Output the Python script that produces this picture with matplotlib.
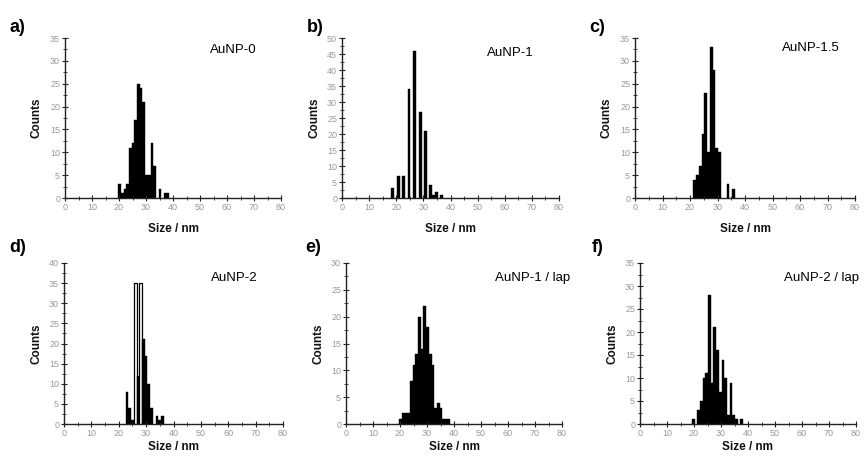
import matplotlib
matplotlib.use("Agg")
import matplotlib.pyplot as plt
from matplotlib.ticker import MultipleLocator

plt.rcParams['font.family'] = ['Liberation Sans', 'DejaVu Sans']

# ---- data (bin centre in nm, counts) ----
a_size = [20.2, 21.2, 22.2, 23.2, 24.2, 25.2, 26.2, 27.2, 28.2, 29.2, 30.2, 31.2, 32.2, 33.2, 35.2, 37.2, 38.2]
a_count = [3, 1, 2, 3, 11, 12, 17, 25, 24, 21, 5, 5, 12, 7, 2, 1, 1]

b_size = [18.7, 20.7, 22.6, 24.7, 26.7, 28.8, 30.8, 32.8, 33.9, 34.8, 36.8]
b_count = [3, 7, 7, 34, 46, 27, 21, 4, 1, 2, 1]

c_size = [21.7, 22.7, 23.7, 24.7, 25.7, 26.7, 27.7, 28.7, 29.7, 30.7, 33.8, 35.8]
c_count = [4, 5, 7, 14, 23, 10, 33, 28, 11, 10, 3, 2]

d_size = [23, 24, 25, 26, 27, 28, 29, 30, 31, 32, 34, 35, 36]
d_count = [8, 4, 1, 35, 12, 35, 21, 17, 10, 4, 2, 1, 2]

e_size = [20.2, 21.2, 22.2, 23.2, 24.2, 25.2, 26.2, 27.2, 28.2, 29.2, 30.2, 31.2, 32.2, 33.2, 34.2, 35.2, 36.2, 37.2, 38.2]
e_count = [1, 2, 2, 2, 8, 11, 13, 20, 14, 22, 18, 13, 11, 3, 4, 3, 1, 1, 1]

f_size = [19.7, 21.7, 22.7, 23.7, 24.7, 25.7, 26.7, 27.7, 28.7, 29.7, 30.7, 31.7, 32.7, 33.7, 34.7, 35.7, 37.7]
f_count = [1, 3, 5, 10, 11, 28, 9, 21, 16, 7, 14, 10, 2, 9, 2, 1, 1]

panels = [
    ("a)", "AuNP-0", a_size, a_count, 35),
    ("b)", "AuNP-1", b_size, b_count, 50),
    ("c)", "AuNP-1.5", c_size, c_count, 35),
    ("d)", "AuNP-2", d_size, d_count, 40),
    ("e)", "AuNP-1 / lap", e_size, e_count, 30),
    ("f)", "AuNP-2 / lap", f_size, f_count, 35),
]

W, H = 866, 459
fig = plt.figure(figsize=(W / 100, H / 100), dpi=100)

# pixel layout: (left, right, top, bottom)
rects = [(65, 281, 38, 198), (342, 559, 38, 198), (635, 855, 38, 198),
         (64, 283, 263, 424), (346, 562, 263, 424), (640, 856, 263, 424)]
letter_pos = [(17, 27), (315, 27), (597, 27), (18, 248), (313, 248), (598, 248)]
title_pos = [(233, 50), (510, 53), (811, 48), (234, 278), (533, 278), (822, 278)]
bar_w = [1.0, 1.1, 1.0, 1.0, 1.0, 1.0]
gray = '#9a9a9a'

for i, (letter, name, xs, ys, ymax) in enumerate(panels):
    l, r, t, b = rects[i]
    ax = fig.add_axes([l / W, 1 - b / H, (r - l) / W, (b - t) / H])
    bars = ax.bar(xs, ys, width=bar_w[i], color='black', edgecolor='black', linewidth=0.3)
    if i == 3:
        # the two tallest bars of panel d appear as outlined (open) bars
        for p, v in zip(bars, ys):
            if v >= 30:
                p.set_facecolor('white')
                p.set_linewidth(0.9)
    ax.set_xlim(0, 80)
    ax.set_ylim(0, ymax)
    for s in ['top', 'right']:
        ax.spines[s].set_visible(False)
    for s in ['left', 'bottom']:
        ax.spines[s].set_linewidth(1.0)
        ax.spines[s].set_color('#222222')
    ax.xaxis.set_major_locator(MultipleLocator(10))
    ax.xaxis.set_minor_locator(MultipleLocator(5))
    ax.yaxis.set_major_locator(MultipleLocator(5))
    ax.yaxis.set_minor_locator(MultipleLocator(2.5))
    ax.tick_params(which='major', direction='inout', length=4, width=0.8,
                   labelsize=6.5, labelcolor=gray, pad=1.5, color='#222222')
    ax.tick_params(which='minor', direction='inout', length=2.5, width=0.6, color='#222222')
    ax.patch.set_alpha(0)

    # axis labels
    fig.text((l - 28) / W, 1 - ((t + b) / 2) / H, "Counts", rotation=90,
             ha='center', va='center', fontsize=8.5, fontweight='bold', color='#111111')
    ly = b + 31 if i < 3 else b + 23
    fig.text(((l + r) / 2) / W, 1 - ly / H, "Size / nm", ha='center', va='center',
             fontsize=8.5, fontweight='bold', color='#111111')
    # panel letter
    lx, lyy = letter_pos[i]
    fig.text(lx / W, 1 - lyy / H, letter, ha='center', va='center',
             fontsize=13, fontweight='bold', color='black')
    # sample name
    tx, ty = title_pos[i]
    fig.text(tx / W, 1 - ty / H, name, ha='center', va='center',
             fontsize=9.5, color='black')

fig.savefig("out.png", dpi=100)
